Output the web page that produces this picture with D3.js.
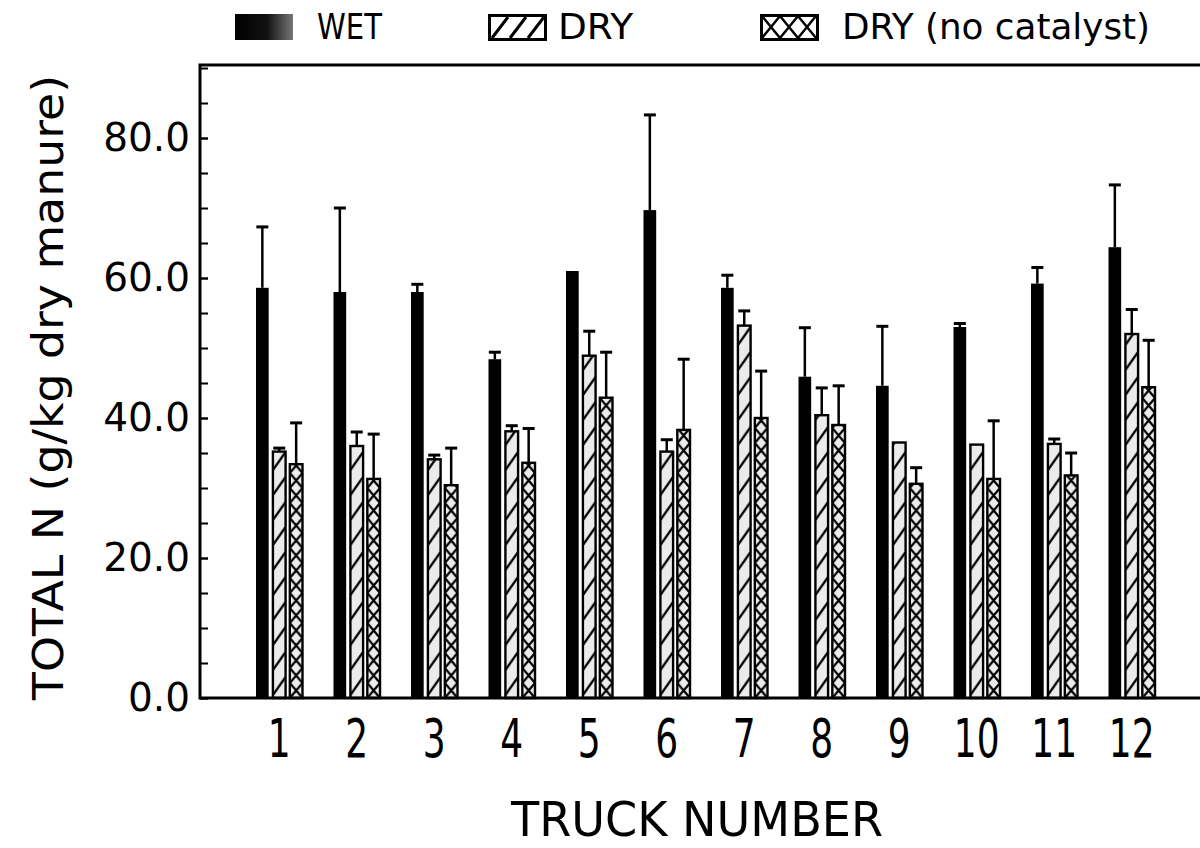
<!DOCTYPE html>
<html>
<head>
<meta charset="utf-8">
<script src="https://cdn.jsdelivr.net/npm/d3@7"></script>
<style>
  body { margin: 0; background: #fff; }
  svg { display: block; }
</style>
</head>
<body>
<div id="chart"></div>
<script>
// values (g/kg dry manure), error = upper bar length
const trucks = ["1", "2", "3", "4", "5", "6", "7", "8", "9", "10", "11", "12"];
const seriesNames = ["WET", "DRY", "DRY (no catalyst)"];
const wetMean = [58.6, 58.0, 58.0, 48.4, 61.0, 69.7, 58.6, 45.9, 44.6, 53.0, 59.2, 64.4];
const wetErr  = [8.7, 12.0, 1.1, 1.0, 0, 13.6, 1.8, 7.0, 8.5, 0.5, 2.3, 8.9];
const dryMean = [35.2, 36.0, 34.1, 38.1, 48.9, 35.2, 53.2, 40.4, 36.5, 36.2, 36.3, 52.0];
const dryErr  = [0.5, 2.0, 0.6, 0.8, 3.5, 1.7, 2.1, 3.9, 0, 0, 0.7, 3.5];
const ncMean  = [33.4, 31.3, 30.4, 33.6, 42.9, 38.3, 40.0, 39.0, 30.6, 31.3, 31.8, 44.4];
const ncErr   = [5.9, 6.4, 5.3, 4.9, 6.5, 10.1, 6.7, 5.6, 2.3, 8.3, 3.2, 6.7];
const yMajor = [0, 20, 40, 60, 80];
const yMinor = d3.range(0, 91, 5);

const width = 1200, height = 848;
const plot = { left: 200, top: 65, bottom: 698, right: 1210 };
const condensed = "'Liberation Sans Narrow', 'DejaVu Sans Condensed', sans-serif";

const means = [wetMean, dryMean, ncMean];
const errs = [wetErr, dryErr, ncErr];
const bars = [];
trucks.forEach((t, i) => {
  seriesNames.forEach((s, k) => {
    bars.push({ truck: t, series: s, k, i, value: means[k][i], err: errs[k][i] });
  });
});

const x = d3.scaleBand(trucks, [201.75, 1209.25]).paddingInner(0.4).paddingOuter(0.7);
const xs = d3.scaleBand(seriesNames, [0, x.bandwidth()]).paddingInner(0.25);
const y = d3.scaleLinear([0, 90.43], [plot.bottom, plot.top]);

const svg = d3.select("#chart").append("svg")
  .attr("width", width)
  .attr("height", height)
  .style("background", "#fff");

const defs = svg.append("defs");

// one pattern per hatched bar so the hatch lines up with its left/bottom edge
const bw = xs.bandwidth();
const hatched = bars.filter(d => d.k > 0);
const pat = defs.selectAll("pattern")
  .data(hatched)
  .join("pattern")
  .attr("id", d => `p${d.k}-${d.i}`)
  .attr("patternUnits", "userSpaceOnUse")
  .attr("x", d => x(d.truck) + xs(d.series))
  .attr("y", plot.bottom)
  .attr("width", bw)
  .attr("height", d => d.k === 1 ? 25 : 15);
pat.append("rect")
  .attr("width", bw)
  .attr("height", d => d.k === 1 ? 25 : 15)
  .attr("fill", "#ebebeb");
pat.append("path")
  .attr("fill", "none")
  .attr("stroke", "#000")
  .attr("stroke-width", 2.2)
  .attr("d", d => d.k === 1
    ? `M0,22L${bw},4`
    : `M0,0L${bw},15M${bw},0L0,15`);

const grad = defs.append("linearGradient").attr("id", "wetSwatch");
grad.append("stop").attr("offset", "0%").attr("stop-color", "#000");
grad.append("stop").attr("offset", "55%").attr("stop-color", "#111");
grad.append("stop").attr("offset", "100%").attr("stop-color", "#777");

// bars
svg.append("g")
  .selectAll("rect")
  .data(bars)
  .join("rect")
  .attr("x", d => x(d.truck) + xs(d.series))
  .attr("y", d => y(d.value))
  .attr("width", bw)
  .attr("height", d => y(0) - y(d.value))
  .attr("fill", d => d.k === 0 ? "#000" : `url(#p${d.k}-${d.i})`)
  .attr("stroke", d => d.k === 0 ? "none" : "#000")
  .attr("stroke-width", 2.4);

// error bars (upper half only)
const eb = svg.append("g")
  .attr("stroke", "#000")
  .selectAll("g")
  .data(bars.filter(d => d.err > 0))
  .join("g")
  .attr("transform", d => `translate(${x(d.truck) + xs(d.series) + bw / 2},0)`);
eb.append("line")
  .attr("y1", d => y(d.value))
  .attr("y2", d => y(d.value + d.err))
  .attr("stroke-width", 2.5);
eb.append("line")
  .attr("x1", -6).attr("x2", 6)
  .attr("y1", d => y(d.value + d.err))
  .attr("y2", d => y(d.value + d.err))
  .attr("stroke-width", 3);

// y axis: minor ticks every 5, labels every 20, ticks point inward
svg.append("g")
  .attr("transform", `translate(${plot.left},0)`)
  .call(d3.axisLeft(y).tickValues(yMinor).tickSize(-8).tickFormat(""))
  .call(g => g.select(".domain").remove())
  .call(g => g.selectAll("line").attr("stroke-width", 2));

svg.append("g")
  .attr("transform", `translate(${plot.left},0)`)
  .call(d3.axisLeft(y).tickValues(yMajor).tickSize(-8).tickPadding(10).tickFormat(d3.format(".1f")))
  .call(g => g.select(".domain").remove())
  .call(g => g.selectAll("line").attr("stroke-width", 2))
  .call(g => g.selectAll("text")
    .attr("font-family", "'DejaVu Sans', sans-serif")
    .attr("font-size", 39)
    .attr("fill", "#000"));

// x axis labels (tall condensed digits)
svg.append("g")
  .attr("transform", `translate(0,${plot.bottom})`)
  .call(d3.axisBottom(x).tickSize(0).tickPadding(0))
  .call(g => g.select(".domain").remove())
  .call(g => g.selectAll("text")
    .attr("y", 44.5)
    .attr("dy", 0)
    .attr("transform", "scale(1,1.33)")
    .attr("font-family", condensed)
    .attr("font-size", 40)
    .attr("fill", "#000"));

// frame
svg.append("path")
  .attr("d", `M${plot.right},${plot.top}H${plot.left}V${plot.bottom}H${plot.right}`)
  .attr("fill", "none")
  .attr("stroke", "#000")
  .attr("stroke-width", 3);

// axis titles
svg.append("text")
  .attr("transform", `translate(63,${(75 + 700) / 2}) rotate(-90)`)
  .attr("text-anchor", "middle")
  .attr("font-family", "'DejaVu Sans', sans-serif")
  .attr("font-size", 43)
  .attr("textLength", 625)
  .attr("lengthAdjust", "spacingAndGlyphs")
  .text("TOTAL N (g/kg dry manure)");

svg.append("text")
  .attr("x", 697)
  .attr("y", 836)
  .attr("text-anchor", "middle")
  .attr("font-family", condensed)
  .attr("font-size", 48)
  .attr("textLength", 372)
  .attr("lengthAdjust", "spacingAndGlyphs")
  .text("TRUCK NUMBER");

// legend
const legendX = [235, 488, 760];
const legendTextX = [317, 558, 842];
const legendTextW = [65, 75, 308];
const lg = svg.append("g")
  .selectAll("g")
  .data(seriesNames)
  .join("g")
  .attr("transform", (d, k) => `translate(${legendX[k]},14)`);

lg.filter((d, k) => k === 0).append("rect")
  .attr("width", 58).attr("height", 26)
  .attr("fill", "url(#wetSwatch)");

lg.filter((d, k) => k > 0).append("rect")
  .attr("x", 1.5).attr("y", 1.5)
  .attr("width", 56).attr("height", 24)
  .attr("fill", "#fff")
  .attr("stroke", "#000")
  .attr("stroke-width", 3);

lg.filter((d, k) => k === 1).append("path")
  .attr("stroke", "#000").attr("stroke-width", 3).attr("fill", "none")
  .attr("d", d3.range(3).map(j => `M${4 + j * 18},24L${20 + j * 18},3`).join(""));

lg.filter((d, k) => k === 2).append("path")
  .attr("stroke", "#000").attr("stroke-width", 2.5).attr("fill", "none")
  .attr("d", d3.range(3).map(j => {
    const a = 2 + j * 18, b = a + 18;
    return `M${a},2L${b},24M${b},2L${a},24`;
  }).join(""));

svg.append("g")
  .selectAll("text")
  .data(seriesNames)
  .join("text")
  .attr("x", (d, k) => legendTextX[k])
  .attr("y", 39)
  .attr("font-family", condensed)
  .attr("font-size", 35)
  .attr("textLength", (d, k) => legendTextW[k])
  .attr("lengthAdjust", "spacingAndGlyphs")
  .text(d => d);
</script>
</body>
</html>
